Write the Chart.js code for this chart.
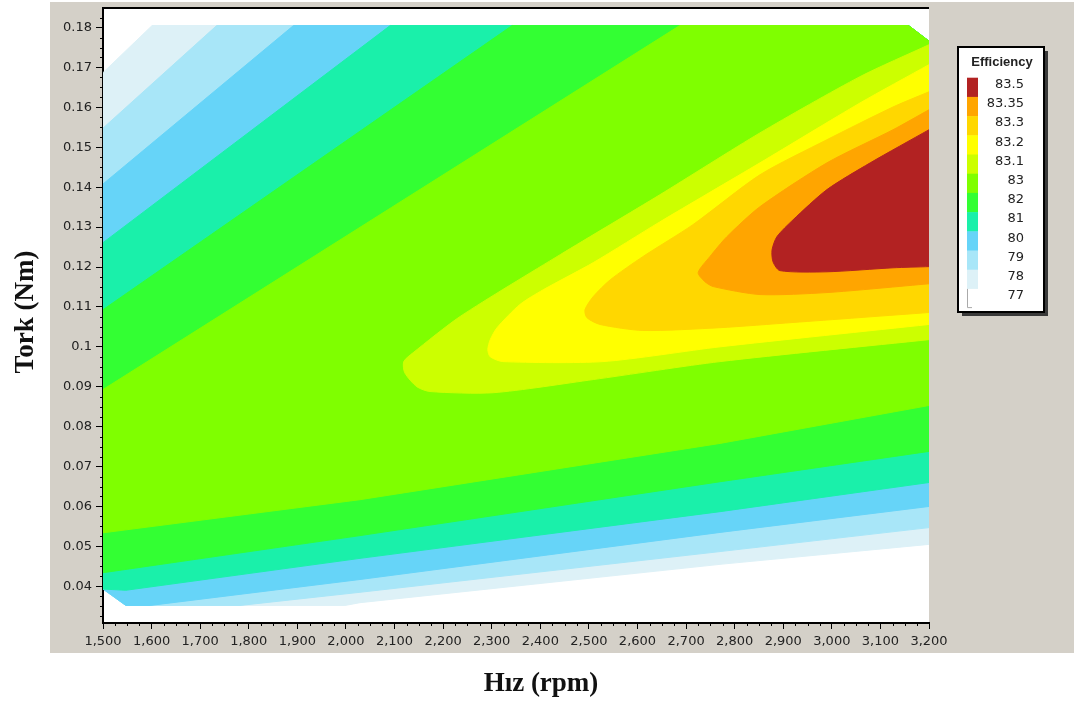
<!DOCTYPE html>
<html>
<head>
<meta charset="utf-8">
<title>Efficiency map</title>
<script src="https://cdn.jsdelivr.net/npm/chart.js@4.4.0/dist/chart.umd.min.js"></script>
<style>
  html, body { margin: 0; padding: 0; background: #fff; }
</style>
</head>
<body>
<canvas id="myChart" width="1077" height="707"></canvas>
<script>
// axis ticks
const xTicks = [1500, 1600, 1700, 1800, 1900, 2000, 2100, 2200, 2300, 2400, 2500, 2600, 2700, 2800, 2900, 3000, 3100, 3200];
const yTicks = [0.04, 0.05, 0.06, 0.07, 0.08, 0.09, 0.1, 0.11, 0.12, 0.13, 0.14, 0.15, 0.16, 0.17, 0.18];

// legend levels (top to bottom) and their colours
const levels = ['83.5', '83.35', '83.3', '83.2', '83.1', '83', '82', '81', '80', '79', '78', '77'];
const levelColors = ['#b22222', '#ffa500', '#ffd700', '#ffff00', '#ccff00', '#7fff00', '#33ff33', '#1af0aa', '#66d4f8', '#a8e6f8', '#ddf1f7', '#ffffff'];

// contour regions [rpm, Nm] (highest level first)
const band83_5 = [[3200,0.1544],[3079,0.1461],[2990,0.1394],[2920,0.1318],[2887,0.1276],[2877,0.1243],[2879,0.1213],[2893,0.1191],[2990,0.1188],[3126,0.1198],[3200,0.1201]];
const band83_35 = [[3200,0.1594],[3126,0.1544],[2990,0.1461],[2852,0.1351],[2784,0.1276],[2749,0.1226],[2725,0.1186],[2739,0.1163],[2756,0.1151],[2852,0.1131],[2990,0.1136],[3200,0.1158]];
const band83_3 = [[3200,0.1639],[3126,0.1601],[2990,0.1519],[2852,0.1431],[2714,0.1306],[2611,0.1226],[2544,0.1168],[2509,0.1126],[2492,0.1093],[2496,0.1073],[2523,0.1056],[2611,0.1041],[2770,0.1048],[2920,0.1061],[3200,0.1086]];
const band83_2 = [[3200,0.1707],[3058,0.1611],[2852,0.1461],[2646,0.1313],[2509,0.1211],[2406,0.1143],[2358,0.1106],[2311,0.1048],[2297,0.1018],[2292,0.0993],[2297,0.0975],[2323,0.0963],[2529,0.0963],[2770,0.1000],[3200,0.1056]];
const band83_1 = [[3200,0.1757],[3058,0.1677],[2852,0.1536],[2646,0.1381],[2441,0.1231],[2235,0.1076],[2138,0.0985],[2119,0.0963],[2121,0.0935],[2146,0.0900],[2173,0.0888],[2303,0.0885],[2509,0.0918],[2770,0.0963],[3200,0.1018]];
const band83 = [[1500,0.0893],[2687,0.1805],[3158,0.1805],[3200,0.1766],[3200,0.0853],[2770,0.0758],[2029,0.0617],[1500,0.0534]];
const band82 = [[1500,0.1093],[2342,0.1805],[3158,0.1805],[3200,0.1766],[3200,0.0738],[2770,0.0662],[2029,0.0527],[1500,0.0434]];
const band81 = [[1500,0.1261],[2091,0.1805],[3158,0.1805],[3200,0.1766],[3200,0.0660],[2770,0.0587],[2029,0.0470],[1547,0.0390],[1500,0.0393]];
const band80 = [[1500,0.1408],[1892,0.1805],[3158,0.1805],[3200,0.1766],[3200,0.0600],[2770,0.0535],[2029,0.0417],[1597,0.0352],[1547,0.0352],[1500,0.0393]];
const band79 = [[1500,0.1548],[1734,0.1805],[3158,0.1805],[3200,0.1766],[3200,0.0547],[2770,0.0487],[2029,0.0385],[1782,0.0352],[1547,0.0352],[1500,0.0393]];
const band78 = [[1500,0.1687],[1601,0.1805],[3158,0.1805],[3200,0.1766],[3200,0.0505],[2770,0.0455],[2029,0.0359],[1998,0.0352],[1547,0.0352],[1500,0.0393]];

const bands = [band83_5, band83_35, band83_3, band83_2, band83_1, band83, band82, band81, band80, band79, band78];

const xTitle = 'Hız (rpm)';
const yTitle = 'Tork (Nm)';
const legendTitle = 'Efficiency';

// first dataset is painted last, so it ends up on top
// the closed tongues (first 5) get a little curve, the straight bands none
const datasets = bands.map((pts, i) => ({
    label: levels[i],
    data: pts.map(p => ({ x: p[0], y: p[1] })),
    fill: 'shape',
    backgroundColor: levelColors[i],
    borderColor: levelColors[i],
    borderWidth: 1,
    pointRadius: 0,
    tension: i < 5 ? 0.25 : 0
}));

const tickFont = { family: 'DejaVu Sans', size: 13 };

// gray panel, frame, minor ticks, axis titles and legend box
const decor = {
    id: 'decor',
    beforeDraw(chart) {
        const { ctx, chartArea: a } = chart;
        ctx.save();
        ctx.fillStyle = '#fff';
        ctx.fillRect(0, 0, chart.width, chart.height);
        ctx.fillStyle = '#d4d0c8';
        ctx.fillRect(50, 2, 1024, 651);
        ctx.fillStyle = '#fff';
        ctx.fillRect(a.left, a.top, a.right - a.left, a.bottom - a.top);
        ctx.restore();
    },
    afterDraw(chart) {
        const { ctx, chartArea: a, scales } = chart;
        ctx.save();
        // top frame line
        ctx.strokeStyle = '#000';
        ctx.lineWidth = 2;
        ctx.beginPath();
        ctx.moveTo(a.left, a.top);
        ctx.lineTo(a.right, a.top);
        ctx.stroke();

        // minor ticks
        ctx.lineWidth = 1;
        ctx.beginPath();
        for (let v = 1525; v < 3200; v += 25) {
            if (v % 100 === 0) continue;
            const px = Math.round(scales.x.getPixelForValue(v)) + 0.5;
            ctx.moveTo(px, a.bottom);
            ctx.lineTo(px, a.bottom + 3);
        }
        for (let k = 13; k <= 73; k++) {
            if (k % 4 === 0) continue;
            const py = Math.round(scales.y.getPixelForValue(k * 0.0025)) + 0.5;
            if (py < a.top || py > a.bottom) continue;
            ctx.moveTo(a.left - 3, py);
            ctx.lineTo(a.left, py);
        }
        ctx.stroke();

        // axis titles
        ctx.fillStyle = '#111';
        ctx.font = 'bold 27px "Liberation Serif"';
        ctx.textAlign = 'center';
        ctx.textBaseline = 'middle';
        ctx.fillText(xTitle, 541, 684);
        ctx.save();
        ctx.translate(26, 312);
        ctx.rotate(-Math.PI / 2);
        ctx.fillText(yTitle, 0, 0);
        ctx.restore();

        // legend
        const lx = a.right + 29, ly = 47, lw = 86, lh = 265;
        ctx.fillStyle = '#3a3a3a';
        ctx.fillRect(lx + 4, ly + 4, lw, lh);
        ctx.fillStyle = '#fff';
        ctx.fillRect(lx, ly, lw, lh);
        ctx.strokeStyle = '#000';
        ctx.lineWidth = 2;
        ctx.strokeRect(lx, ly, lw, lh);

        ctx.fillStyle = '#222';
        ctx.font = 'bold 13px "Liberation Sans"';
        ctx.fillText(legendTitle, lx + 44, ly + 15);

        const sw = 11, sh = 19.2, sx = lx + 9, sy = ly + 30.7;
        ctx.font = '13px "DejaVu Sans"';
        ctx.textAlign = 'right';
        levels.forEach((lab, i) => {
            ctx.fillStyle = levelColors[i];
            ctx.fillRect(sx, sy + i * sh, sw, sh + 0.5);
            ctx.fillStyle = '#222';
            ctx.fillText(lab, lx + 66, sy + i * sh + 7);
        });
        // outline of the white swatch
        ctx.strokeStyle = '#aaa';
        ctx.lineWidth = 1;
        ctx.beginPath();
        ctx.moveTo(sx + 0.5, sy + 11 * sh);
        ctx.lineTo(sx + 0.5, sy + 12 * sh - 0.5);
        ctx.lineTo(sx + 5, sy + 12 * sh - 0.5);
        ctx.stroke();
        ctx.restore();
    }
};

const config = {
    type: 'line',
    data: { datasets },
    options: {
        responsive: false,
        devicePixelRatio: 1,
        animation: false,
        layout: { padding: { left: 43, top: 8, right: 148, bottom: 44 } },
        plugins: {
            legend: { display: false },
            tooltip: { enabled: false },
            filler: { propagate: false }
        },
        scales: {
            x: {
                type: 'linear',
                min: 1500,
                max: 3200,
                afterBuildTicks: s => { s.ticks = xTicks.map(v => ({ value: v })); },
                afterFit: s => { s.height = 40; s.paddingLeft = 0; s.paddingRight = 0; },
                grid: { drawOnChartArea: false, color: '#000', tickLength: 6 },
                border: { color: '#000', width: 2 },
                ticks: {
                    color: '#222', font: tickFont, padding: 5,
                    maxRotation: 0, autoSkip: false,
                    callback: v => v.toLocaleString('en-US')
                }
            },
            y: {
                type: 'linear',
                min: 0.0308,
                max: 0.1849,
                afterBuildTicks: s => { s.ticks = yTicks.map(v => ({ value: v })); },
                afterFit: s => { s.width = 60; s.paddingTop = 0; s.paddingBottom = 0; },
                grid: { drawOnChartArea: false, color: '#000', tickLength: 7 },
                border: { color: '#000', width: 2 },
                ticks: {
                    color: '#222', font: tickFont, padding: 4, autoSkip: false,
                    callback: v => String(+v.toFixed(2))
                }
            }
        }
    },
    plugins: [decor]
};

const myChart = new Chart(document.getElementById('myChart').getContext('2d'), config);
</script>
</body>
</html>
